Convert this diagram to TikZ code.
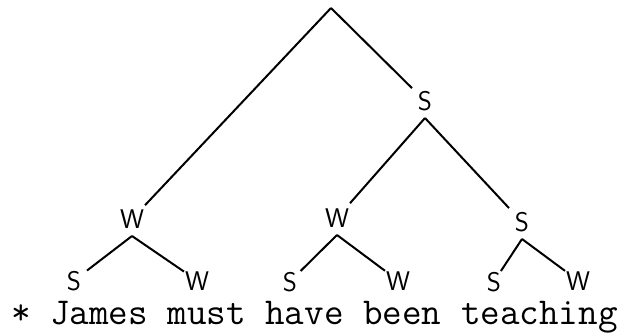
\documentclass[tikz,border=0pt]{standalone}
\usepackage{fontspec}
\begin{document}
\begin{tikzpicture}[x=1pt,y=-1pt,line width=2pt,
  lab/.style={inner sep=0pt,minimum height=32pt,minimum width=24pt,font=\sffamily\fontsize{27}{27}\selectfont},
  leaf/.style={lab,minimum height=0pt,text height=19pt,text depth=0pt,anchor=base}]
\useasboundingbox (0,0) rectangle (628,336);
\coordinate (root) at (331,8);
% upper levels
\node[lab] (s1) at (425,101) {S};
\node[lab] (w1) at (132,219) {W};
\node[lab] (w2) at (337,218) {W};
\node[lab] (s2) at (522,222) {S};
% leaves
\node[leaf] (s3) at (74,290) {S};
\node[leaf] (w3) at (197,290) {W};
\node[leaf] (s4) at (290,291) {S};
\node[leaf] (w4) at (398,290) {W};
\node[leaf] (s5) at (494,291) {S};
\node[leaf] (w5) at (578,290) {W};

\draw (root)--(w1);
\draw (root)--(s1);
\draw (s1.south)--(w2);
\draw (s1.south)--(s2);
\draw (w1.south)--(s3);
\draw (w1.south)--(w3);
\draw (w2.south)--(s4);
\draw (w2.south)--(w4);
\draw (s2.south)--(s5);
\draw (s2.south)--(w5);

\node[anchor=base west,inner sep=0pt,font=\ttfamily\fontsize{38}{40}\selectfont] (words) at (10,324) {* James must have been teaching};
\end{tikzpicture}
\end{document}
